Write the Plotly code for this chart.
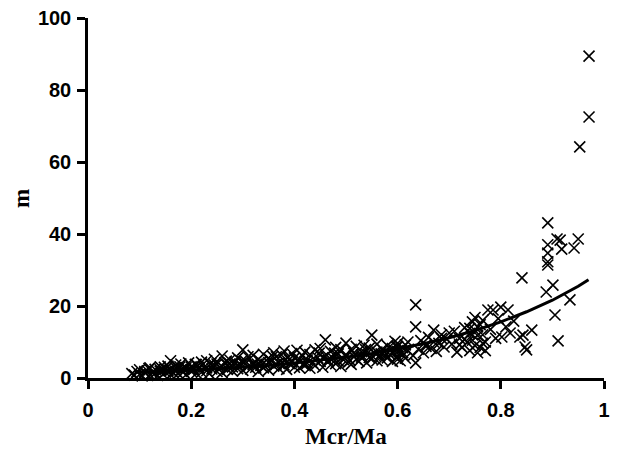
import plotly.graph_objects as go

# Scatter data (Mcr/Ma, m)
x_pts = [
    0.085, 0.09, 0.095, 0.10, 0.10, 0.105, 0.11, 0.115, 0.12, 0.12,
    0.13, 0.13, 0.135, 0.14, 0.14, 0.145, 0.15, 0.15, 0.155, 0.16, 0.16, 0.16, 0.165, 0.17, 0.17,
    0.175, 0.18, 0.18, 0.185, 0.19, 0.19, 0.195, 0.20, 0.20, 0.205, 0.21, 0.21, 0.215, 0.22, 0.22,
    0.225, 0.23, 0.23, 0.235, 0.24, 0.24, 0.245, 0.25, 0.25, 0.255, 0.26, 0.26, 0.265, 0.27, 0.27,
    0.275, 0.28, 0.28, 0.285, 0.29, 0.29, 0.295, 0.30, 0.30, 0.305, 0.31, 0.31, 0.315, 0.32, 0.32,
    0.325, 0.33, 0.33, 0.335, 0.34, 0.34, 0.345, 0.35, 0.35, 0.355, 0.36, 0.36, 0.365, 0.37, 0.37,
    0.375, 0.38, 0.38, 0.385, 0.39, 0.39, 0.395, 0.40, 0.40, 0.405, 0.41, 0.41, 0.415, 0.42, 0.42,
    0.425, 0.43, 0.43, 0.435, 0.44, 0.44, 0.445, 0.45, 0.45, 0.455, 0.46, 0.46, 0.465, 0.47, 0.47,
    0.475, 0.48, 0.48, 0.485, 0.49, 0.49, 0.495, 0.50, 0.50, 0.505, 0.51, 0.51, 0.515, 0.52, 0.52,
    0.525, 0.53, 0.53, 0.535, 0.54, 0.54, 0.545, 0.55, 0.55, 0.555, 0.56, 0.56, 0.565, 0.57, 0.57,
    0.575, 0.58, 0.58, 0.585, 0.59, 0.59, 0.595, 0.595, 0.60, 0.60, 0.60, 0.60, 0.605, 0.605,
    0.61, 0.61, 0.615, 0.615, 0.62, 0.62,
    0.63, 0.635, 0.635, 0.635, 0.64, 0.645, 0.65, 0.655, 0.66, 0.665, 0.67, 0.67, 0.675, 0.68,
    0.685, 0.69, 0.695, 0.70,
    0.705, 0.71, 0.715, 0.72, 0.725, 0.73, 0.735, 0.74, 0.74, 0.745, 0.745, 0.75, 0.75, 0.75,
    0.755, 0.755, 0.76, 0.76, 0.765, 0.765, 0.77, 0.77, 0.775, 0.78, 0.785,
    0.79, 0.795, 0.80, 0.802, 0.81, 0.814, 0.818, 0.825, 0.837, 0.841, 0.843, 0.847, 0.85, 0.86,
    0.888, 0.891, 0.891, 0.891, 0.891, 0.891, 0.901, 0.905, 0.909, 0.911, 0.915, 0.918,
    0.934, 0.942, 0.95, 0.953, 0.971, 0.971,
    # extra points in the dense band
    0.11, 0.125, 0.14, 0.155, 0.17, 0.185, 0.20, 0.215, 0.23, 0.245,
    0.26, 0.275, 0.29, 0.305, 0.32, 0.335, 0.35, 0.365, 0.38, 0.395,
    0.41, 0.425, 0.44, 0.455, 0.47, 0.485, 0.50, 0.515, 0.53, 0.545,
    0.56, 0.575, 0.59, 0.60, 0.61, 0.72, 0.73, 0.745, 0.755, 0.765,
    0.118, 0.148, 0.178, 0.208, 0.238, 0.268, 0.298, 0.328, 0.358, 0.388,
    0.418, 0.448, 0.478, 0.508, 0.538, 0.568, 0.598, 0.655, 0.685, 0.74,
]
y_pts = [
    1.2, 0.8, 1.8, 1.0, 2.3, 0.6, 1.5, 2.0, 0.9, 2.8,
    1.3, 2.4, 0.7, 1.9, 3.1, 1.1, 2.5, 1.6, 3.3, 0.9, 2.1, 4.8, 1.5, 2.8, 3.6,
    1.2, 2.2, 3.9, 1.7, 2.9, 0.9, 4.2, 1.8, 3.1, 2.4, 1.3, 3.7, 2.6, 4.4, 1.6,
    3.0, 2.0, 4.8, 1.2, 3.4, 2.5, 5.2, 1.8, 3.9, 2.9, 6.1, 1.5, 4.2, 2.4, 3.6,
    5.0, 1.9, 3.1, 4.4, 2.6, 5.6, 3.8, 7.8, 2.1, 4.7, 3.2, 5.9, 2.5, 4.1, 6.3,
    3.0, 5.2, 1.8, 4.4, 6.6, 2.8, 3.7, 5.5, 2.2, 4.8, 7.0, 3.3, 5.9, 2.6, 4.2,
    6.4, 3.6, 7.5, 2.4, 5.1, 4.0, 6.8, 3.0, 5.6, 7.7, 4.5, 2.8, 6.2, 3.8, 7.2,
    5.0, 2.7, 6.5, 4.2, 7.8, 3.4, 5.7, 8.2, 4.6, 3.0, 10.6, 6.1, 4.9, 7.4, 3.6,
    5.5, 8.5, 4.0, 6.7, 3.2, 7.9, 5.1, 9.7, 6.3, 4.4, 8.0, 3.8, 6.9, 5.2, 8.8,
    4.6, 7.3, 5.8, 9.1, 4.2, 6.6, 8.3, 5.4, 11.9, 7.0, 4.8, 9.4, 6.1, 8.0, 5.0,
    7.2, 5.6, 9.0, 6.5, 8.2, 4.6, 7.5, 10.2, 6.0, 8.8, 5.2, 9.6, 7.0, 4.8,
    8.4, 6.4, 9.2, 5.5, 7.6, 10.0,
    6.2, 20.3, 14.2, 4.2, 8.0, 10.4, 7.0, 9.2, 11.3, 8.2, 13.3, 10.0, 7.4, 9.6,
    12.0, 8.6, 10.8, 12.5,
    9.4, 13.0, 7.2, 11.0, 8.5, 14.0, 9.9, 12.4, 7.6, 15.6, 10.5, 16.8, 13.2, 9.0,
    11.8, 7.0, 14.8, 8.5, 12.0, 16.0, 10.0, 7.6, 18.9, 13.5, 18.9,
    11.0, 16.5, 19.7, 11.4, 14.2, 18.9, 12.5, 15.8, 11.4, 27.8, 11.9, 8.6, 7.8, 13.3,
    23.9, 43.1, 37.0, 34.7, 32.3, 31.4, 25.8, 17.5, 38.6, 10.3, 38.3, 35.8,
    21.7, 36.1, 38.6, 64.2, 72.5, 89.4,
    # extra points in the dense band
    1.8, 1.4, 2.3, 2.0, 1.9, 2.6, 2.4, 3.0, 2.8, 3.6,
    3.2, 3.9, 3.4, 4.0, 3.7, 3.5, 4.3, 3.9, 4.9, 4.4,
    5.2, 4.1, 5.0, 5.6, 5.3, 4.7, 5.9, 6.0, 6.4, 5.7,
    7.2, 6.3, 6.9, 7.4, 7.0, 9.2, 10.8, 12.0, 14.2, 9.6,
    2.6, 3.0, 3.1, 3.8, 4.0, 4.7, 4.8, 3.9, 6.0, 5.8,
    3.6, 6.9, 6.9, 4.9, 7.9, 6.7, 8.6, 8.8, 11.0, 13.8,
]

# Fitted curve
x_fit = [0.09, 0.15, 0.20, 0.25, 0.30, 0.35, 0.40, 0.45, 0.50, 0.55, 0.60,
         0.65, 0.70, 0.75, 0.80, 0.85, 0.90, 0.95, 0.97]
y_fit = [1.5, 1.8, 2.2, 2.6, 3.0, 3.5, 4.2, 4.9, 5.8, 6.8, 8.1,
         9.5, 11.2, 13.2, 15.6, 18.4, 21.6, 25.5, 27.3]

x_ticks = [0, 0.2, 0.4, 0.6, 0.8, 1]
x_tick_labels = ["0", "0.2", "0.4", "0.6", "0.8", "1"]
y_ticks = [0, 20, 40, 60, 80, 100]

x_title = "Mcr/Ma"
y_title = "m"

fig = go.Figure()
fig.add_trace(go.Scatter(
    x=x_pts, y=y_pts, mode="markers",
    marker=dict(symbol="x-thin-open", size=11, color="black",
                line=dict(color="black", width=1.6)),
    cliponaxis=False, showlegend=False,
))
fig.add_trace(go.Scatter(
    x=x_fit, y=y_fit, mode="lines",
    line=dict(color="black", width=3),
    cliponaxis=False, showlegend=False,
))

axis_common = dict(
    showgrid=False, zeroline=False, showline=True, linecolor="black",
    linewidth=2.5, ticks="outside", tickwidth=2.5, ticklen=8,
    tickcolor="black", automargin=False,
    tickfont=dict(family="Liberation Sans, Arial", size=20, color="black"),
)

title_font = dict(family="Liberation Serif, Times New Roman", size=23, color="black")

fig.update_layout(
    width=617, height=450,
    margin=dict(l=88, r=13, t=18, b=72),
    plot_bgcolor="white", paper_bgcolor="white",
    xaxis=dict(range=[0, 1], tickvals=x_ticks, ticktext=["<b>%s</b>" % t for t in x_tick_labels],
               ticklabelstandoff=4, **axis_common),
    yaxis=dict(range=[0, 100], tickvals=y_ticks, ticktext=["<b>%d</b>" % t for t in y_ticks],
               ticklabelstandoff=2, **axis_common),
    annotations=[
        dict(text="<b>%s</b>" % x_title, xref="paper", yref="paper", x=0.5, y=-0.162,
             xanchor="center", yanchor="middle", showarrow=False, font=title_font),
        dict(text="<b>%s</b>" % y_title, xref="paper", yref="paper", x=-0.13, y=0.5,
             xanchor="center", yanchor="middle", showarrow=False, textangle=-90, font=title_font),
    ],
)

fig.write_html("out.html")
